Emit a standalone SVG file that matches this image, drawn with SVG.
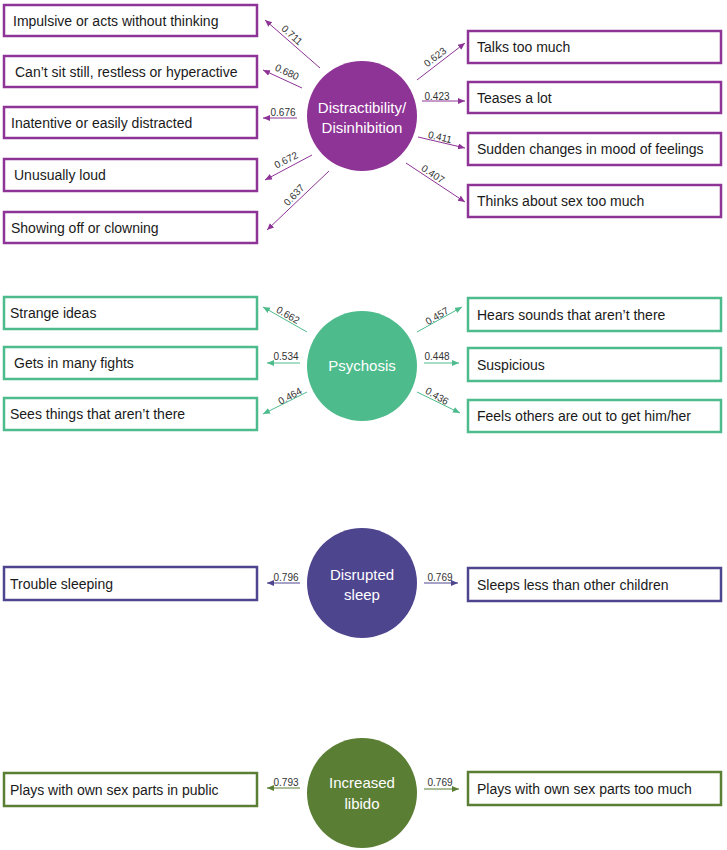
<svg xmlns="http://www.w3.org/2000/svg" width="727" height="850" viewBox="0 0 727 850">
<style>
.box{fill:#fff;stroke-width:2.5}
.bt{font-family:"Liberation Sans",Arial,sans-serif;font-size:14px;fill:#1a1a1a;dominant-baseline:central}
.ct{font-family:"Liberation Sans",Arial,sans-serif;font-size:15px;fill:#fff;text-anchor:middle;dominant-baseline:central}
.lb{font-family:"Liberation Sans",Arial,sans-serif;font-size:10px;fill:#333;text-anchor:middle;dominant-baseline:central}
.p{stroke:#8E3496}.g{stroke:#4DBB8C}.v{stroke:#4E458F}.o{stroke:#5B7E35}
.ln{stroke-width:1;fill:none}
</style>
<defs>
<marker id="mp" markerUnits="userSpaceOnUse" markerWidth="8" markerHeight="7" refX="7" refY="3" orient="auto"><path d="M0,0 L7,3 L0,6 z" fill="#8E3496"/></marker>
<marker id="mg" markerUnits="userSpaceOnUse" markerWidth="8" markerHeight="7" refX="7" refY="3" orient="auto"><path d="M0,0 L7,3 L0,6 z" fill="#4DBB8C"/></marker>
<marker id="mv" markerUnits="userSpaceOnUse" markerWidth="8" markerHeight="7" refX="7" refY="3" orient="auto"><path d="M0,0 L7,3 L0,6 z" fill="#4E458F"/></marker>
<marker id="mo" markerUnits="userSpaceOnUse" markerWidth="8" markerHeight="7" refX="7" refY="3" orient="auto"><path d="M0,0 L7,3 L0,6 z" fill="#5B7E35"/></marker>
</defs>
<rect width="727" height="850" fill="#fff"/>

<!-- Factor nodes -->
<g id="distractibility">
<circle cx="362" cy="116" r="55" fill="#8E3496"/>
<text class="ct" x="362" y="107">Distractibility/</text>
<text class="ct" x="362" y="127">Disinhibition</text>
</g>
<g id="psychosis">
<circle cx="362" cy="366" r="55" fill="#4DBB8C"/>
<text class="ct" x="362" y="365">Psychosis</text>
</g>
<g id="sleep">
<circle cx="362" cy="583" r="55" fill="#4E458F"/>
<text class="ct" x="362" y="574">Disrupted</text>
<text class="ct" x="362" y="594">sleep</text>
</g>
<g id="libido">
<circle cx="362" cy="793" r="55" fill="#5B7E35"/>
<text class="ct" x="362" y="782">Increased</text>
<text class="ct" x="362" y="803">libido</text>
</g>

<!-- Item nodes: distractibility -->
<g id="d1"><rect class="box p" x="4" y="5" width="253" height="31"/><text class="bt" x="13" y="20.5">Impulsive or acts without thinking</text></g>
<g id="d2"><rect class="box p" x="4" y="56" width="253" height="31"/><text class="bt" x="15" y="71.5">Can’t sit still, restless or hyperactive</text></g>
<g id="d3"><rect class="box p" x="4" y="107" width="253" height="31"/><text class="bt" x="11" y="122.5">Inatentive or easily distracted</text></g>
<g id="d4"><rect class="box p" x="4" y="159" width="253" height="32"/><text class="bt" x="14" y="175">Unusually loud</text></g>
<g id="d5"><rect class="box p" x="4" y="212" width="253" height="31"/><text class="bt" x="11" y="227.5">Showing off or clowning</text></g>
<g id="d6"><rect class="box p" x="468" y="31" width="253" height="32"/><text class="bt" x="477" y="47">Talks too much</text></g>
<g id="d7"><rect class="box p" x="468" y="82" width="253" height="31"/><text class="bt" x="477" y="97.5">Teases a lot</text></g>
<g id="d8"><rect class="box p" x="468" y="133" width="253" height="32"/><text class="bt" x="477" y="149">Sudden changes in mood of feelings</text></g>
<g id="d9"><rect class="box p" x="468" y="185" width="253" height="32"/><text class="bt" x="477" y="201">Thinks about sex too much</text></g>

<!-- Item nodes: psychosis -->
<g id="p1"><rect class="box g" x="4" y="297" width="253" height="32"/><text class="bt" x="10" y="313">Strange ideas</text></g>
<g id="p2"><rect class="box g" x="4" y="347" width="253" height="32"/><text class="bt" x="14" y="363">Gets in many fights</text></g>
<g id="p3"><rect class="box g" x="4" y="398" width="253" height="32"/><text class="bt" x="10" y="414">Sees things that aren’t there</text></g>
<g id="p4"><rect class="box g" x="468" y="298" width="253" height="33"/><text class="bt" x="477" y="314.5">Hears sounds that aren’t there</text></g>
<g id="p5"><rect class="box g" x="468" y="348" width="253" height="33"/><text class="bt" x="477" y="364.5">Suspicious</text></g>
<g id="p6"><rect class="box g" x="468" y="400" width="253" height="32"/><text class="bt" x="477" y="416">Feels others are out to get him/her</text></g>

<!-- Item nodes: sleep -->
<g id="s1"><rect class="box v" x="4" y="567" width="253" height="33"/><text class="bt" x="10" y="583.5">Trouble sleeping</text></g>
<g id="s2"><rect class="box v" x="468" y="568" width="253" height="33"/><text class="bt" x="477" y="584.5">Sleeps less than other children</text></g>

<!-- Item nodes: libido -->
<g id="l1"><rect class="box o" x="4" y="773" width="253" height="33"/><text class="bt" x="10" y="789.5">Plays with own sex parts in public</text></g>
<g id="l2"><rect class="box o" x="468" y="772" width="253" height="33"/><text class="bt" x="477" y="788.5">Plays with own sex parts too much</text></g>

<!-- Connectors -->
<g id="connectors">
<g marker-end="url(#mp)">
<line class="ln p" x1="320" y1="68" x2="265" y2="20"/>
<line class="ln p" x1="302" y1="88" x2="263" y2="70"/>
<line class="ln p" x1="297" y1="118" x2="263" y2="118"/>
<line class="ln p" x1="312" y1="155" x2="265" y2="180"/>
<line class="ln p" x1="329" y1="171" x2="267" y2="230"/>
<line class="ln p" x1="417" y1="80" x2="465" y2="43"/>
<line class="ln p" x1="422" y1="101" x2="465" y2="101"/>
<line class="ln p" x1="418" y1="137" x2="465" y2="148"/>
<line class="ln p" x1="406" y1="163" x2="465" y2="202"/>
</g>
<g marker-end="url(#mg)">
<line class="ln g" x1="307" y1="332" x2="263" y2="307"/>
<line class="ln g" x1="300" y1="363" x2="267" y2="363"/>
<line class="ln g" x1="307" y1="392" x2="263" y2="414"/>
<line class="ln g" x1="417" y1="332" x2="462" y2="307"/>
<line class="ln g" x1="424" y1="363" x2="459" y2="363"/>
<line class="ln g" x1="417" y1="392" x2="460" y2="413"/>
</g>
<g marker-end="url(#mv)">
<line class="ln v" x1="300" y1="583" x2="267" y2="583"/>
<line class="ln v" x1="424" y1="583" x2="458" y2="583"/>
</g>
<g marker-end="url(#mo)">
<line class="ln o" x1="300" y1="788" x2="267" y2="788"/>
<line class="ln o" x1="424" y1="789" x2="459" y2="789"/>
</g>
<!-- labels -->
<text class="lb" transform="translate(292,35) rotate(42)">0.711</text>
<text class="lb" transform="translate(287,72) rotate(25)">0.680</text>
<text class="lb" transform="translate(283,112)">0.676</text>
<text class="lb" transform="translate(286,160) rotate(-27)">0.672</text>
<text class="lb" transform="translate(294,195) rotate(-47)">0.637</text>
<text class="lb" transform="translate(435,57) rotate(-38)">0.623</text>
<text class="lb" transform="translate(437,96)">0.423</text>
<text class="lb" transform="translate(440,137) rotate(13)">0.411</text>
<text class="lb" transform="translate(433,174) rotate(33)">0.407</text>
<text class="lb" transform="translate(288,315) rotate(30)">0.662</text>
<text class="lb" transform="translate(286,356)">0.534</text>
<text class="lb" transform="translate(290,396) rotate(-28)">0.464</text>
<text class="lb" transform="translate(437,316) rotate(-30)">0.457</text>
<text class="lb" transform="translate(437,356)">0.448</text>
<text class="lb" transform="translate(437,396) rotate(30)">0.436</text>
<text class="lb" transform="translate(286,577)">0.796</text>
<text class="lb" transform="translate(440,577)">0.769</text>
<text class="lb" transform="translate(286,782)">0.793</text>
<text class="lb" transform="translate(440,782)">0.769</text>
</g>
</svg>
